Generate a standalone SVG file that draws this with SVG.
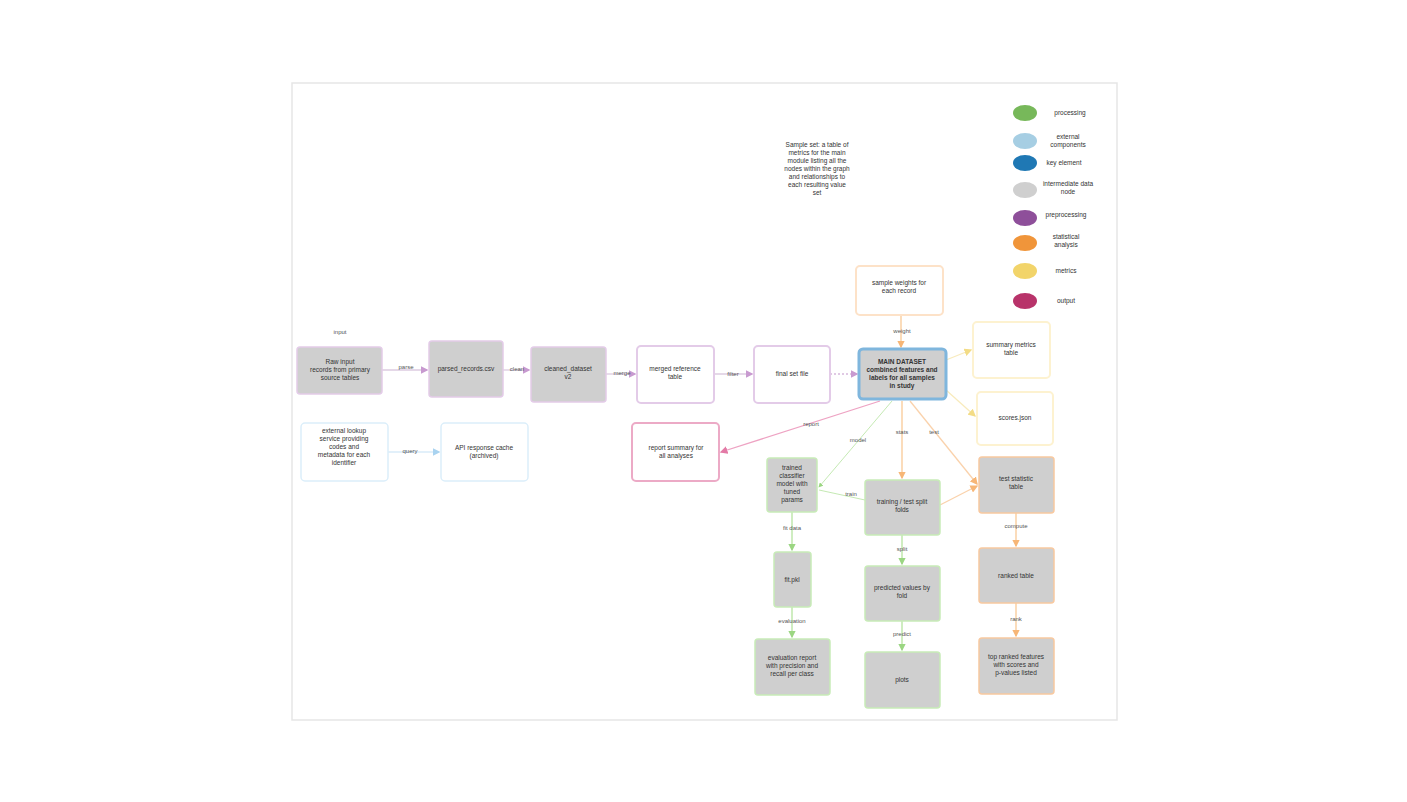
<svg xmlns="http://www.w3.org/2000/svg" width="1407" height="802" viewBox="0 0 1407 802">
<defs>
<style>
text{font-family:"Liberation Sans",Arial,sans-serif;font-size:6.5px;fill:#333;text-anchor:middle}
.b{font-weight:bold}
.lbl{fill:#555;font-size:6px}
.g{fill:#cfcfcf}
.w{fill:#fff}
.e{fill:none;stroke-width:1.3}
</style>
<marker id="aP" markerWidth="6" markerHeight="6" refX="5" refY="3" orient="auto"><path d="M0,0L6,3L0,6z" fill="#c89ad0"/></marker>
<marker id="aO" markerWidth="6" markerHeight="6" refX="5" refY="3" orient="auto"><path d="M0,0L6,3L0,6z" fill="#f7b676"/></marker>
<marker id="aY" markerWidth="6" markerHeight="6" refX="5" refY="3" orient="auto"><path d="M0,0L6,3L0,6z" fill="#f3dc86"/></marker>
<marker id="aG" markerWidth="6" markerHeight="6" refX="5" refY="3" orient="auto"><path d="M0,0L6,3L0,6z" fill="#9bd682"/></marker>
<marker id="aR" markerWidth="6" markerHeight="6" refX="5" refY="3" orient="auto"><path d="M0,0L6,3L0,6z" fill="#e37aa6"/></marker>
<marker id="aB" markerWidth="6" markerHeight="6" refX="5" refY="3" orient="auto"><path d="M0,0L6,3L0,6z" fill="#a9d3f0"/></marker>
</defs>
<rect width="1407" height="802" fill="#fff"/>
<rect x="292" y="83" width="825" height="637" fill="#fff" stroke="#e6e6e6" stroke-width="1.5"/>

<g id="note">
<text x="817" y="147">Sample set: a table of</text>
<text x="817" y="155">metrics for the main</text>
<text x="817" y="163">module listing all the</text>
<text x="817" y="171">nodes within the graph</text>
<text x="817" y="179">and relationships to</text>
<text x="817" y="187">each resulting value</text>
<text x="817" y="195">set</text>
</g>

<g id="legend">
<ellipse cx="1025" cy="113" rx="12" ry="8" fill="#77b85a"/><text x="1070" y="115">processing</text>
<ellipse cx="1025" cy="141" rx="12" ry="8" fill="#a6cee3"/><text x="1068" y="139">external</text><text x="1068" y="147">components</text>
<ellipse cx="1025" cy="163" rx="12" ry="8" fill="#1f78b4"/><text x="1064" y="165">key element</text>
<ellipse cx="1025" cy="190" rx="12" ry="8" fill="#cfcfcf"/><text x="1068" y="186">intermediate data</text><text x="1068" y="194">node</text>
<ellipse cx="1025" cy="218" rx="12" ry="8" fill="#8e4f9a"/><text x="1066" y="217">preprocessing</text>
<ellipse cx="1025" cy="243" rx="12" ry="8" fill="#f0953a"/><text x="1066" y="239">statistical</text><text x="1066" y="247">analysis</text>
<ellipse cx="1025" cy="271" rx="12" ry="8" fill="#f2d46a"/><text x="1066" y="273">metrics</text>
<ellipse cx="1025" cy="301" rx="12" ry="8" fill="#b8336a"/><text x="1066" y="303">output</text>
</g>

<g id="edges">
<path class="e" d="M382,370H427" stroke="#dccbe0" marker-end="url(#aP)"/>
<path class="e" d="M503,370H529" stroke="#dccbe0" marker-end="url(#aP)"/>
<path class="e" d="M606,374H635" stroke="#dccbe0" marker-end="url(#aP)"/>
<path class="e" d="M714,374H752" stroke="#dccbe0" marker-end="url(#aP)"/>
<path class="e" d="M830,374H857" stroke="#d6b8dc" stroke-dasharray="2,2" marker-end="url(#aP)"/>
<path class="e" d="M901,315V347" stroke="#f9c996" marker-end="url(#aO)"/>
<path class="e" d="M946,360L971,350" stroke="#f8ebbd" marker-end="url(#aY)"/>
<path class="e" d="M946,390L975,416" stroke="#f8ebbd" marker-end="url(#aY)"/>
<path class="e" d="M880,401L721,452" stroke="#eea3c3" marker-end="url(#aR)"/>
<path d="M892,401L819,487" fill="none" stroke="#b5e3a0" stroke-width="0.8" marker-end="url(#aG)"/>
<path class="e" d="M902,401V478" stroke="#f9c996" marker-end="url(#aO)"/>
<path class="e" d="M910,401L977,484" stroke="#fad2ac" marker-end="url(#aO)"/>
<path class="e" d="M940,505L977,486" stroke="#fad2ac" marker-end="url(#aO)"/>
<path d="M865,500L819,490" fill="none" stroke="#b5e3a0" stroke-width="0.8"/>
<path class="e" d="M388,452H439" stroke="#d8ebf8" marker-end="url(#aB)"/>
<path class="e" d="M792,512V550" stroke="#b5e3a0" marker-end="url(#aG)"/>
<path class="e" d="M792,607V637" stroke="#b5e3a0" marker-end="url(#aG)"/>
<path class="e" d="M902,535V564" stroke="#b5e3a0" marker-end="url(#aG)"/>
<path class="e" d="M902,621V650" stroke="#b5e3a0" marker-end="url(#aG)"/>
<path class="e" d="M1016,513V546" stroke="#f9c996" marker-end="url(#aO)"/>
<path class="e" d="M1016,603V636" stroke="#f9c996" marker-end="url(#aO)"/>
<text class="lbl" x="340" y="334">input</text>
<text class="lbl" x="406" y="369">parse</text>
<text class="lbl" x="517" y="371">clean</text>
<text class="lbl" x="622" y="375">merge</text>
<text class="lbl" x="733" y="376">filter</text>
<text class="lbl" x="902" y="333">weight</text>
<text class="lbl" x="811" y="426">report</text>
<text class="lbl" x="858" y="442">model</text>
<text class="lbl" x="902" y="434">stats</text>
<text class="lbl" x="934" y="434">test</text>
<text class="lbl" x="851" y="496">train</text>
<text class="lbl" x="410" y="453">query</text>
<text class="lbl" x="792" y="530">fit data</text>
<text class="lbl" x="792" y="623">evaluation</text>
<text class="lbl" x="902" y="551">split</text>
<text class="lbl" x="902" y="636">predict</text>
<text class="lbl" x="1016" y="528">compute</text>
<text class="lbl" x="1016" y="621">rank</text>
</g>

<g id="n1"><rect x="297" y="347" width="85" height="47" rx="3" class="g" stroke="#e3cbe8" stroke-width="1.5"/><text x="340" y="364">Raw input</text><text x="340" y="372">records from primary</text><text x="340" y="380">source tables</text></g>
<g id="n2"><rect x="429" y="341" width="74" height="56" rx="3" class="g" stroke="#e3cbe8" stroke-width="1.5"/><text x="466" y="371">parsed_records.csv</text></g>
<g id="n3"><rect x="531" y="347" width="75" height="55" rx="3" class="g" stroke="#e3cbe8" stroke-width="1.5"/><text x="568" y="371">cleaned_dataset</text><text x="568" y="379">v2</text></g>
<g id="n4"><rect x="637" y="346" width="77" height="57" rx="4" class="w" stroke="#e3cbe8" stroke-width="2"/><text x="675" y="371">merged reference</text><text x="675" y="379">table</text></g>
<g id="n5"><rect x="754" y="346" width="76" height="57" rx="4" class="w" stroke="#e3cbe8" stroke-width="2"/><text x="792" y="376">final set file</text></g>
<g id="n6"><rect x="859" y="349" width="87" height="50" rx="4" class="g" stroke="#7fb6dd" stroke-width="3"/><text class="b" x="902" y="364">MAIN DATASET</text><text class="b" x="902" y="372">combined features and</text><text class="b" x="902" y="380">labels for all samples</text><text class="b" x="902" y="388">in study</text></g>
<g id="n7"><rect x="856" y="266" width="87" height="49" rx="4" class="w" stroke="#fde2c8" stroke-width="2"/><text x="899" y="285">sample weights for</text><text x="899" y="293">each record</text></g>
<g id="n8"><rect x="973" y="322" width="77" height="56" rx="4" class="w" stroke="#fdf2d0" stroke-width="2"/><text x="1011" y="347">summary metrics</text><text x="1011" y="355">table</text></g>
<g id="n9"><rect x="977" y="392" width="76" height="53" rx="4" class="w" stroke="#fdf2d0" stroke-width="2"/><text x="1015" y="420">scores.json</text></g>
<g id="n10"><rect x="632" y="423" width="87" height="58" rx="4" class="w" stroke="#ecaac6" stroke-width="2"/><text x="676" y="450">report summary for</text><text x="676" y="458">all analyses</text></g>
<g id="n11"><rect x="301" y="423" width="87" height="58" rx="4" class="w" stroke="#dbeefa" stroke-width="1.5"/><text x="344" y="433">external lookup</text><text x="344" y="441">service providing</text><text x="344" y="449">codes and</text><text x="344" y="457">metadata for each</text><text x="344" y="465">identifier</text></g>
<g id="n12"><rect x="441" y="423" width="87" height="58" rx="4" class="w" stroke="#dbeefa" stroke-width="1.5"/><text x="484" y="450">API response cache</text><text x="484" y="458">(archived)</text></g>
<g id="n13"><rect x="767" y="458" width="50" height="54" rx="3" class="g" stroke="#c8ebb8" stroke-width="1.5"/><text x="792" y="470">trained</text><text x="792" y="478">classifier</text><text x="792" y="486">model with</text><text x="792" y="494">tuned</text><text x="792" y="502">params</text></g>
<g id="n14"><rect x="865" y="480" width="75" height="55" rx="3" class="g" stroke="#c8ebb8" stroke-width="1.5"/><text x="902" y="504">training / test split</text><text x="902" y="512">folds</text></g>
<g id="n15"><rect x="979" y="457" width="75" height="56" rx="3" class="g" stroke="#f8c9a0" stroke-width="1.5"/><text x="1016" y="481">test statistic</text><text x="1016" y="489">table</text></g>
<g id="n16"><rect x="774" y="552" width="37" height="55" rx="3" class="g" stroke="#c8ebb8" stroke-width="1.5"/><text x="792" y="582">fit.pkl</text></g>
<g id="n17"><rect x="865" y="566" width="75" height="55" rx="3" class="g" stroke="#c8ebb8" stroke-width="1.5"/><text x="902" y="590">predicted values by</text><text x="902" y="598">fold</text></g>
<g id="n18"><rect x="979" y="548" width="75" height="55" rx="3" class="g" stroke="#f8c9a0" stroke-width="1.5"/><text x="1016" y="578">ranked table</text></g>
<g id="n19"><rect x="755" y="639" width="75" height="56" rx="3" class="g" stroke="#c8ebb8" stroke-width="1.5"/><text x="792" y="660">evaluation report</text><text x="792" y="668">with precision and</text><text x="792" y="676">recall per class</text></g>
<g id="n20"><rect x="865" y="652" width="75" height="56" rx="3" class="g" stroke="#c8ebb8" stroke-width="1.5"/><text x="902" y="682">plots</text></g>
<g id="n21"><rect x="979" y="638" width="75" height="56" rx="3" class="g" stroke="#f8c9a0" stroke-width="1.5"/><text x="1016" y="659">top ranked features</text><text x="1016" y="667">with scores and</text><text x="1016" y="675">p-values listed</text></g>
</svg>
